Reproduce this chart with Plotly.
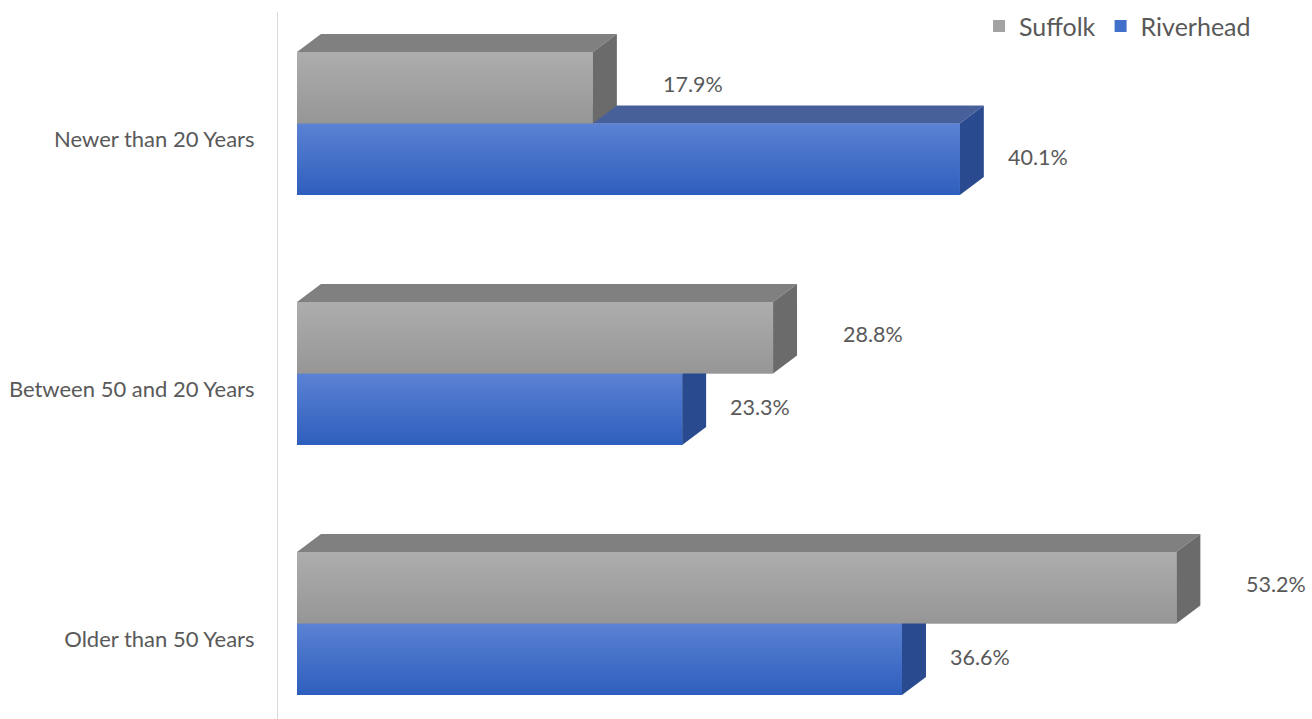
import plotly.graph_objects as go

# Housing age shares (percent of housing units)
categories = ["Older than 50 Years", "Between 50 and 20 Years", "Newer than 20 Years"]
suffolk = [53.2, 28.8, 17.9]
riverhead = [36.6, 23.3, 40.1]
series_names = ["Suffolk", "Riverhead"]

# Visual parameters for the pseudo-3D boxes
BAR_H = 0.286        # front-face height in category units
DEPTH_X = 1.45       # depth offset along x (percent units)
DEPTH_Y = 0.072      # depth offset along y (category units)
LABEL_GAP = {"Suffolk": 4.1, "Riverhead": 2.8}
TEXT = "#595959"
FONT = "Lato"

styles = {
    "Suffolk": dict(front=("#969696", "#adadad"), top="#808080", side="#6b6b6b", legend="#a2a2a2"),
    "Riverhead": dict(front=("#2e5ebd", "#5b82d3"), top="#48609a", side="#294a8e", legend="#4170ca"),
}

fig = go.Figure()
ys = list(range(len(categories)))

# Legend entries and base front faces as real bars
for name, vals, off in [("Suffolk", suffolk, 0.0), ("Riverhead", riverhead, -BAR_H)]:
    fig.add_trace(go.Bar(
        name=name, x=vals, y=ys, orientation="h", base=0, width=BAR_H, offset=off,
        marker=dict(color=styles[name]["legend"], line=dict(width=0)),
        hoverinfo="skip", legendrank=series_names.index(name) + 1,
    ))


def poly(xs, ys_, **kw):
    fig.add_trace(go.Scatter(x=xs + [xs[0]], y=ys_ + [ys_[0]], mode="lines", fill="toself",
                             line=dict(width=0), showlegend=False, hoverinfo="skip", **kw))


# Riverhead boxes first so Suffolk boxes sit in front of them
for name, vals, lo_off in [("Riverhead", riverhead, -BAR_H), ("Suffolk", suffolk, 0.0)]:
    st = styles[name]
    for c, v in zip(ys, vals):
        y0 = c + lo_off
        y1 = y0 + BAR_H
        # top face
        poly([0, v, v + DEPTH_X, DEPTH_X], [y1, y1, y1 + DEPTH_Y, y1 + DEPTH_Y], fillcolor=st["top"])
        # side face
        poly([v, v, v + DEPTH_X, v + DEPTH_X], [y0, y1, y1 + DEPTH_Y, y0 + DEPTH_Y], fillcolor=st["side"])
        # front face with vertical gradient
        poly([0, v, v, 0], [y0, y0, y1, y1],
             fillgradient=dict(type="vertical",
                               colorscale=[[0, st["front"][0]], [1, st["front"][1]]]))

# Value labels
for name, vals, lab_off in [("Suffolk", suffolk, 0.16), ("Riverhead", riverhead, -0.135)]:
    for c, v in zip(ys, vals):
        fig.add_annotation(x=v + LABEL_GAP[name], y=c + lab_off, text=f"{v:.1f}%",
                           showarrow=False, xanchor="left", yanchor="middle",
                           font=dict(family=FONT, size=21.5, color=TEXT))

px_per_pct = 16.53
fig.update_layout(
    width=1312, height=719,
    margin=dict(l=278, r=0, t=12, b=0),
    paper_bgcolor="white", plot_bgcolor="white",
    barmode="overlay",
    showlegend=True,
    legend=dict(orientation="h", x=0.678, xanchor="left", y=0.98, yanchor="middle",
                font=dict(family=FONT, size=25, color=TEXT), traceorder="normal",
                bgcolor="rgba(0,0,0,0)"),
    xaxis=dict(range=[-19 / px_per_pct, 1015 / px_per_pct], visible=False),
    yaxis=dict(range=[-0.382, 2.446], showgrid=False, zeroline=False,
               showline=True, linecolor="#d9d9d9", linewidth=1,
               tickvals=[c - 0.062 for c in ys], ticktext=categories, ticks="",
               ticklabelstandoff=18,
               tickfont=dict(family=FONT, size=22, color=TEXT)),
)

fig.write_html("out.html")
